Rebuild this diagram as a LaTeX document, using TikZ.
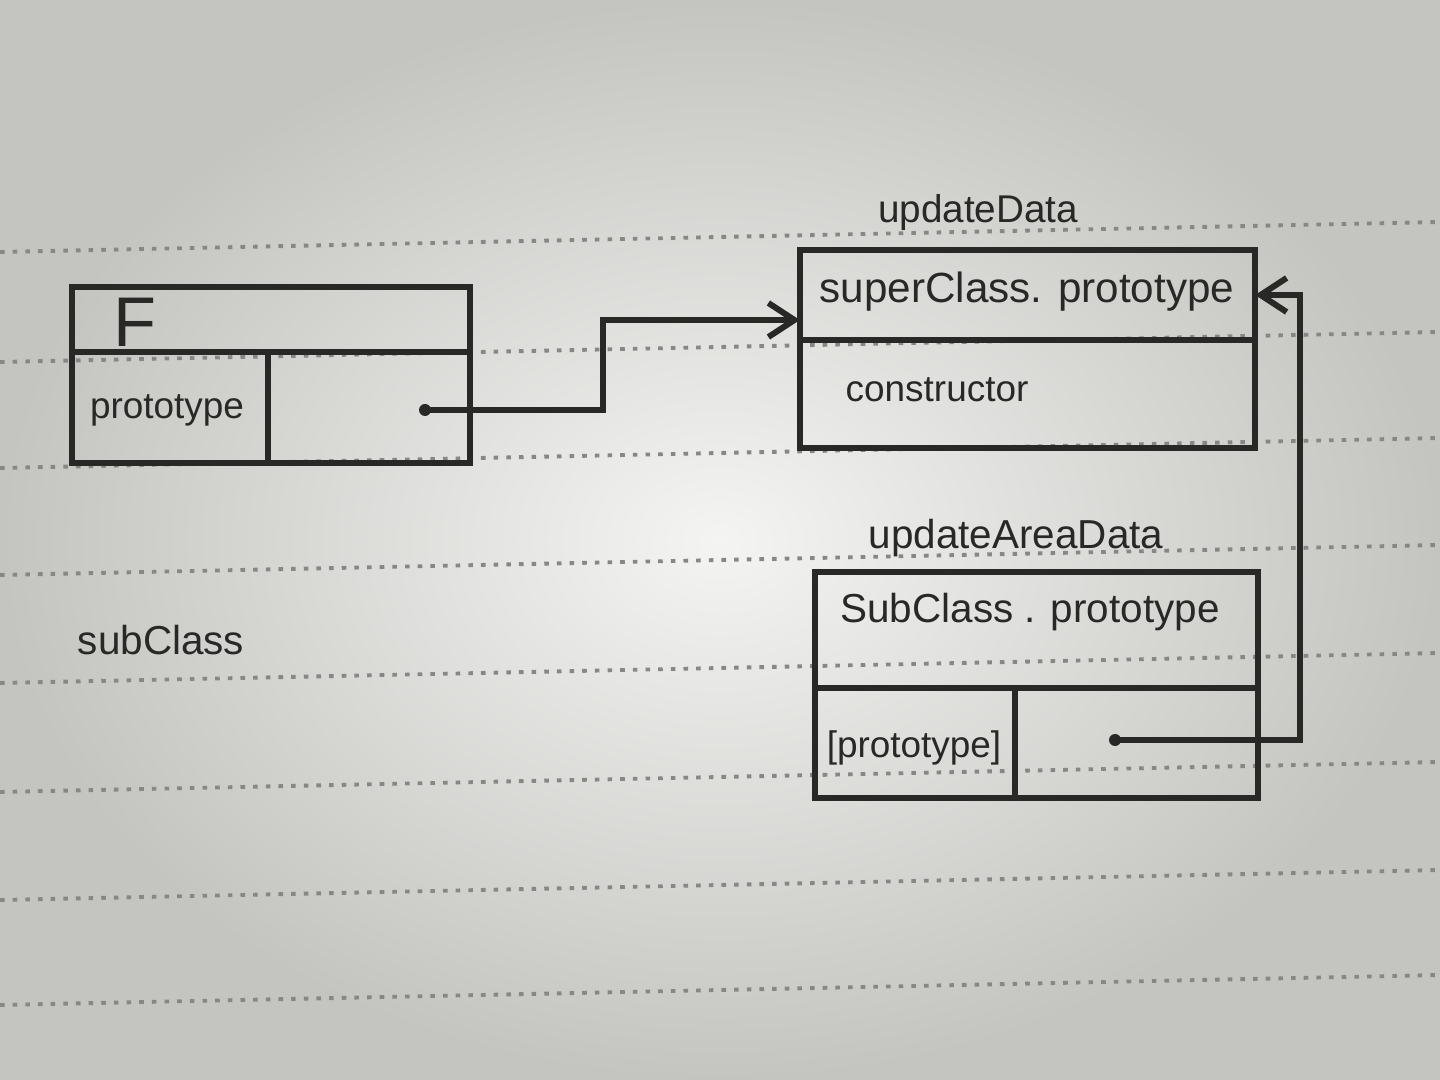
\documentclass[tikz,border=0pt]{standalone}
\usepackage{fontspec}
\setmainfont{Liberation Sans}
\usetikzlibrary{arrows.meta,calc}
\definecolor{ink}{RGB}{40,40,38}
\definecolor{paperin}{RGB}{244,244,242}
\definecolor{paperout}{RGB}{196,196,193}
\definecolor{rule}{RGB}{135,135,133}
\tikzset{
  cell/.style={draw=ink, line width=1.7pt, inner sep=0pt, outer sep=0pt, rectangle},
  txt/.style={text=ink, inner sep=0pt, font=\fontsize{11.5}{13}\selectfont},
  small/.style={text=ink, inner sep=0pt, font=\fontsize{10.5}{12}\selectfont},
  lbl/.style={text=ink, inner sep=0pt, font=\fontsize{11}{13}\selectfont},
  ptr/.style={draw=ink, line width=1.7pt, -{Straight Barb[length=2.6mm,width=3.4mm,line width=1.7pt]}},
  dotmark/.style={circle, fill=ink, inner sep=0pt, minimum size=0.12cm},
  ruleline/.style={draw=rule, line width=1.1pt, dash pattern=on 1.3pt off 2.3pt}
}
\begin{document}
\begin{tikzpicture}[x=0.01cm, y=-0.01cm]
\useasboundingbox (0,0) rectangle (1440,1080);
\shade[inner color=paperin, outer color=paperout] (0,0) rectangle (1440,1080);
% ruled lines of the notebook paper
\foreach \yy in {252,362,468,575,683,792,900,1005} {
  \draw[ruleline] (0,\yy) -- (1440,\yy-30);
}
% Box F
\node[cell, minimum width=3.98cm, minimum height=0.65cm] (fTop) at (271,319.5) {};
\node[cell, minimum width=1.96cm, minimum height=1.11cm] (fKey) at (170,407.5) {};
\node[cell, minimum width=2.02cm, minimum height=1.11cm] (fVal) at (369,407.5) {};
\node[txt, font=\fontsize{20}{22}\selectfont] (fName) at (135,322) {F};
\node[small] (fKeyTxt) at (167,410) {prototype};
\node[dotmark] (dotF) at (425,410) {};
% Box superClass.prototype
\node[cell, minimum width=4.55cm, minimum height=0.90cm] (supTop) at (1027.5,295) {};
\node[cell, minimum width=4.55cm, minimum height=1.08cm] (supBot) at (1027.5,394) {};
\node[txt, font=\fontsize{12}{14}\selectfont] (supTxt) at (1027,292) {superClass. prototype};
\node[small, anchor=west] (ctorTxt) at (845,390) {constructor};
\node[lbl] (updData) at (978,213) {updateData};
% Box SubClass.prototype
\node[cell, minimum width=4.43cm, minimum height=1.16cm] (subTop) at (1036.5,630) {};
\node[cell, minimum width=2.00cm, minimum height=1.10cm] (subKey) at (915,743) {};
\node[cell, minimum width=2.43cm, minimum height=1.10cm] (subVal) at (1136.5,743) {};
\node[txt] (subTxt) at (1030,612) {SubClass . prototype};
\node[small] (subKeyTxt) at (914,748) {[prototype]};
\node[dotmark] (dotS) at (1115,740) {};
\node[lbl, font=\fontsize{11.5}{13}\selectfont] (updArea) at (1016,538) {updateAreaData};
% free label
\node[txt] (subClassTxt) at (161,640) {subClass};
% connectors
\coordinate (bendA) at (603,0);
\coordinate (bendB) at (1300,0);
\draw[ptr] (dotF.center) -- (dotF -| bendA) |- ([yshift=-0.25cm]supTop.west);
\draw[ptr] (dotS.center) -- (dotS -| bendB) |- (supTop.east);
\end{tikzpicture}
\end{document}
